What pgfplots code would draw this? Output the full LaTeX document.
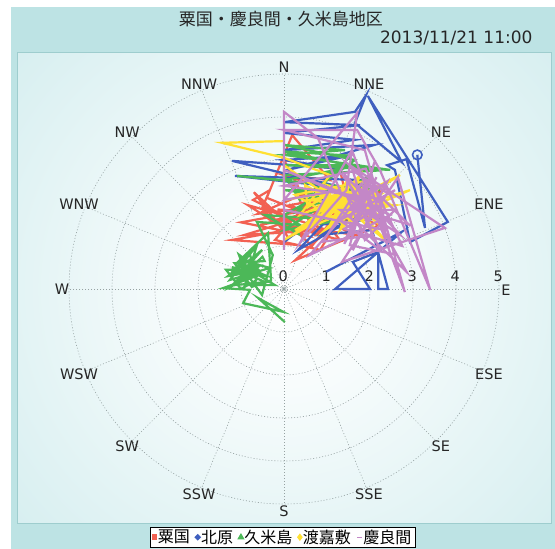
\documentclass[border=0pt]{standalone}
\usepackage{fontspec}
\setmainfont{DejaVu Sans}
\newfontfamily\cjk{Noto Sans CJK JP}
\usepackage{pgfplots}
\pgfplotsset{compat=1.18}

\definecolor{chartbg}{RGB}{189,227,228}
\definecolor{plotbg}{RGB}{196,231,233}
\definecolor{framec}{RGB}{158,205,206}
\definecolor{gridc}{RGB}{150,162,162}
\definecolor{cAguni}{RGB}{242,97,82}
\definecolor{cKitahara}{RGB}{63,95,191}
\definecolor{cKume}{RGB}{76,184,88}
\definecolor{cTokashiki}{RGB}{255,224,51}
\definecolor{cKerama}{RGB}{195,135,199}

\pgfdeclareradialshading{glow}{\pgfpointorigin}{color(0bp)=(white); color(6bp)=(white!88!plotbg); color(32bp)=(plotbg); color(50bp)=(plotbg)}

\tikzset{
  gridline/.style={gridc, line width=0.6bp, dash pattern=on 1bp off 2bp},
  dirlabel/.style={font=\fontsize{14.5bp}{17bp}\selectfont, text=black!85},
}

\begin{document}
\begin{tikzpicture}
\useasboundingbox (0,0) rectangle (555bp,-549bp);
\clip (0,0) rectangle (555bp,-549bp);
\begin{scope}[x=1bp,y=-1bp]
  \fill[white] (0,0) rectangle (555,549);
  \fill[chartbg] (11,7) rectangle (555,549);
  \fill[plotbg] (17,52) rectangle (551,523);
  \begin{scope}
    \clip (17,52) rectangle (551,523);
    \shade[shading=glow] (284,289) circle (400bp);
  \end{scope}
  \draw[framec, line width=0.8bp] (17,52) rectangle (551,523);
  \node[font=\cjk\fontsize{17bp}{20bp}\selectfont, text=black!85] at (281,19) {粟国・慶良間・久米島地区};
  \node[anchor=east, font=\fontsize{17bp}{20bp}\selectfont, text=black!85] at (536,38) {2013/11/21 11:00};
\end{scope}

\begin{axis}[
  at={(17bp,-523bp)}, anchor=south west,
  scale only axis, width=534bp, height=471bp,
  xmin=-6.2093, xmax=6.2093, ymin=-5.4419, ymax=5.5116,
  hide axis, clip=false,
  every axis plot/.append style={line width=2.2bp, line join=miter, miter limit=10},
  legend image code/.code={\draw[#1] plot coordinates {(0bp,0bp)};},
  legend style={at={(0.498,-0.0085)}, anchor=north, legend columns=-1,
    draw=black, line width=0.8bp, fill=white, inner xsep=2bp, inner ysep=1.5bp,
    font=\cjk\fontsize{16bp}{19bp}\selectfont,
    nodes={inner xsep=1.6bp, inner ysep=0.8bp},
    /tikz/every even column/.append style={column sep=4.5bp}},
]
% polar grid: rings every 1 m/s and 16 compass spokes
\draw[gridline] (axis cs:0,0) circle[radius=43bp];
\draw[gridline] (axis cs:0,0) circle[radius=86bp];
\draw[gridline] (axis cs:0,0) circle[radius=129bp];
\draw[gridline] (axis cs:0,0) circle[radius=172bp];
\draw[gridline] (axis cs:0,0) circle[radius=215bp];
\pgfplotsinvokeforeach{0,22.5,...,337.5}{
  \draw[gridline] (axis cs:0,0) -- ++(#1:215bp);
}
\draw[gridc, line width=0.6bp] (axis cs:0,0) circle[radius=2bp];

% compass labels
\node[dirlabel] at (axis cs:0,5.16) {N};
\node[dirlabel] at (axis cs:1.975,4.767) {NNE};
\node[dirlabel] at (axis cs:3.649,3.649) {NE};
\node[dirlabel] at (axis cs:4.767,1.975) {ENE};
\node[dirlabel] at (axis cs:5.16,-0.02) {E};
\node[dirlabel] at (axis cs:4.767,-1.975) {ESE};
\node[dirlabel] at (axis cs:3.649,-3.649) {SE};
\node[dirlabel] at (axis cs:1.975,-4.767) {SSE};
\node[dirlabel] at (axis cs:0,-5.16) {S};
\node[dirlabel] at (axis cs:-1.975,-4.767) {SSW};
\node[dirlabel] at (axis cs:-3.649,-3.649) {SW};
\node[dirlabel] at (axis cs:-4.767,-1.975) {WSW};
\node[dirlabel] at (axis cs:-5.16,0) {W};
\node[dirlabel] at (axis cs:-4.767,1.975) {WNW};
\node[dirlabel] at (axis cs:-3.649,3.649) {NW};
\node[dirlabel] at (axis cs:-1.975,4.767) {NNW};

% radial scale
\node[dirlabel] at (axis cs:-0.02,0.29) {0};
\node[dirlabel] at (axis cs:0.98,0.29) {1};
\node[dirlabel] at (axis cs:1.98,0.29) {2};
\node[dirlabel] at (axis cs:2.98,0.29) {3};
\node[dirlabel] at (axis cs:3.98,0.29) {4};
\node[dirlabel] at (axis cs:4.98,0.29) {5};

% legend entries
\addlegendimage{only marks, mark=square*, cAguni, mark size=1.7bp}
\addlegendimage{only marks, mark=*, cKitahara, mark size=1.8bp}
\addlegendimage{only marks, mark=triangle*, cKume, mark size=2bp}
\addlegendimage{only marks, mark=diamond*, cTokashiki, mark size=2bp}
\addlegendimage{only marks, mark=-, cKerama, mark size=2.4bp, mark options={line width=1.3bp}}
\legend{粟国,北原,久米島,渡嘉敷,慶良間}

% wind vector tracks (east, north components)
% 粟国
\addplot[cAguni, forget plot] coordinates {
(0.37,1.02) (-1.21,1.14) (0.07,1.37) (-0.84,1.95) (-0.02,1.72) (-0.72,2.07)
(-0.33,2.30) (-0.51,1.88) (1.00,1.37) (-0.91,1.26) (0.60,1.72) (-0.40,2.12)
(0.19,3.58) (1.07,2.53) (0,2.65) (1.42,2.19) (0.14,1.95) (1.65,1.26)
(0,1.49) (1.30,1.14) (0.37,2.30) (1.70,2.30) (0.84,0.91) (-0.21,1.14)
(0.90,2.40) (-0.60,1.75) (1.20,1.95) (-1.00,1.55) (0.50,1.25) (-0.30,1.60)
(1.53,1.84) (0.26,0.67) (2.23,1.49) (0.49,2.07) (0,3.00) (1.30,2.77)
(1.60,1.50) (0.20,2.45) (0.72,1.26) (1.88,1.95) (-0.56,1.49) (0.84,1.84)
(2.35,2.30) (0.10,1.20) (-0.70,2.25) (0.65,1.00) (1.15,1.65) (-0.15,1.85)
(2.05,1.70) (0.45,1.45)
};
% 北原
\addplot[cKitahara, forget plot] coordinates {
(0.98,0.40) (2.74,1.33) (1.19,0) (2.00,0) (1.60,0.63) (2.19,0.86)
(2.19,0) (2.42,0) (2.05,1.37) (0.84,1.26) (1.77,1.72) (0.33,0.91)
(0.90,1.50) (2.30,1.65) (0.60,2.10) (1.95,2.10)
(1.30,2.19) (0,1.09) (1.88,2.53) (-1.14,2.63) (1.42,2.35) (-1.21,2.98)
(1.19,2.81) (0,3.00) (1.50,3.10) (0,2.75) (2.10,3.35)
(0,3.23) (1.65,3.47) (0,3.63) (1.77,3.81) (0,3.88)
(1.65,4.12) (1.91,4.51) (1.65,3.86) (2.74,2.95) (1.95,4.49) (3.81,1.56)
(2.93,1.09) (2.58,2.77) (2.40,2.88) (2.85,3.02) (3.28,1.42) (3.10,3.12)
};
\addplot[cKitahara, only marks, mark=o, mark size=4.8bp, mark options={line width=1.6bp}, forget plot]
  coordinates {(3.10,3.12)};
% 久米島
\addplot[cKume, forget plot] coordinates {
(0.02,-0.77) (-0.60,-0.21) (-0.02,-0.53) (-0.95,-0.33) (-0.79,-0.02) (-1.42,0.02)
(-0.56,0.33) (-1.21,0.51) (-0.44,0.16) (-1.14,0.09) (-0.67,0.63) (-1.02,0.33)
(-0.51,0.91) (-0.84,0.63) (-0.33,0.49) (-1.26,0.21) (-0.63,1.02) (-0.91,0.09)
(-0.21,0.09) (-0.72,0.40) (-1.30,0.30) (-0.70,0.75) (-1.10,0.15) (-0.55,0.55)
(-0.95,0.55) (-0.40,0.30) (-1.20,0.40) (-0.80,0.85) (-0.65,0.20) (-1.00,0.00)
(-1.35,0.45) (-0.60,0.45) (-1.05,0.80) (-0.85,0.25) (-1.25,0.05) (-0.50,0.75)
(-0.45,0.65) (-1.15,0.60) (-0.75,0.05) (-0.30,0.20) (-0.37,1.30) (-1.07,0.63)
(-0.51,-0.14) (-0.26,0.79) (-0.63,1.56) (0.37,1.49) (0,1.72) (0.84,2.19)
(0,2.30) (2.23,2.30) (-1.09,2.63) (0,2.53) (1.77,2.88) (0,2.88)
(2.47,2.77) (0,3.12) (1.42,3.23) (0,3.35) (1.65,3.00) (0.37,2.07)
(0,2.65) (2.10,2.75) (0,3.20) (1.55,3.10) (0.30,1.80) (1.85,2.40)
(2.00,2.65) (0,1.37) (1.30,1.60) (-0.44,1.72) (0.37,1.26)
};
% 渡嘉敷
\addplot[cTokashiki, forget plot] coordinates {
(0,3.44) (-1.44,3.40) (0,3.05) (1.07,2.65) (0.37,1.72) (1.77,2.30)
(0.60,2.07) (2.12,1.84) (0.84,2.42) (1.42,1.49) (0.26,2.19) (2.00,2.53)
(1.19,1.72) (2.70,2.65) (1.30,1.95) (0,1.14) (1.65,2.07) (0.95,1.37)
(2.23,2.19) (0.72,1.84) (1.53,2.42) (1.07,1.49) (2.93,2.30) (1.42,1.84)
(0.90,2.25) (1.80,1.75) (0.70,2.30) (1.60,1.55) (2.20,2.35) (1.10,1.95)
(1.85,2.15) (0.80,1.65) (1.50,2.55) (2.10,1.60) (1.25,2.35) (0.55,1.90)
(0.49,2.42) (1.88,1.60) (1.07,2.19) (2.35,1.14) (1.53,2.07) (0.26,1.37)
(1.95,2.40) (1.40,1.70) (2.40,2.00) (1.05,2.40) (1.75,1.95) (0.65,1.45)
(1.77,2.65) (1.30,1.37) (2.12,2.19) (0.84,1.95) (1.65,1.72) (0,2.88)
(0,2.07) (1.42,2.30) (0.60,1.60) (2.58,1.95) (1.20,2.05) (1.90,1.85)
(1.00,1.80) (1.70,2.35) (1.15,1.60) (2.00,2.05) (1.35,2.20) (2.25,1.70) (1.30,2.10)
};
% 慶良間
\addplot[cKerama, forget plot] coordinates {
(0,0.91) (0,4.12) (0.79,3.51) (1.30,2.30) (0,2.07) (1.70,4.09)
(1.45,2.30) (0.37,1.07) (1.58,3.23) (2.81,-0.07) (1.88,3.23) (0,3.70)
(1.70,3.70) (2.23,2.77) (3.40,-0.02) (2.65,2.60) (1.35,0.63) (3.74,1.42)
(1.50,2.90) (2.90,1.50) (1.60,1.90) (2.40,2.50) (1.60,0.90) (2.20,2.10)
(0,2.40) (1.90,2.80) (2.75,1.00) (1.40,1.40) (2.30,1.95) (1.40,2.60)
(1.77,2.07) (0,2.77) (2.47,1.72) (1.55,1.26) (2.12,3.00) (1.53,1.02)
(2.60,0.80) (1.80,2.45) (0.90,1.10) (2.05,1.25) (1.60,2.75) (2.45,2.20)
(2.58,2.30) (1.30,1.60) (2.23,0.91) (1.42,2.65) (2.70,1.26) (1.65,1.95)
(1.55,1.65) (2.85,0.40) (1.95,2.00) (1.40,1.05) (2.15,2.60) (1.45,1.20)
(0.60,0.79) (2.00,2.42) (2.35,1.37) (0,1.84) (1.77,1.49) (1.30,1.84)
(2.58,1.84) (1.88,1.14) (1.50,2.07) (2.12,1.72) (2.50,1.55)
};
\end{axis}
\end{tikzpicture}
\end{document}
